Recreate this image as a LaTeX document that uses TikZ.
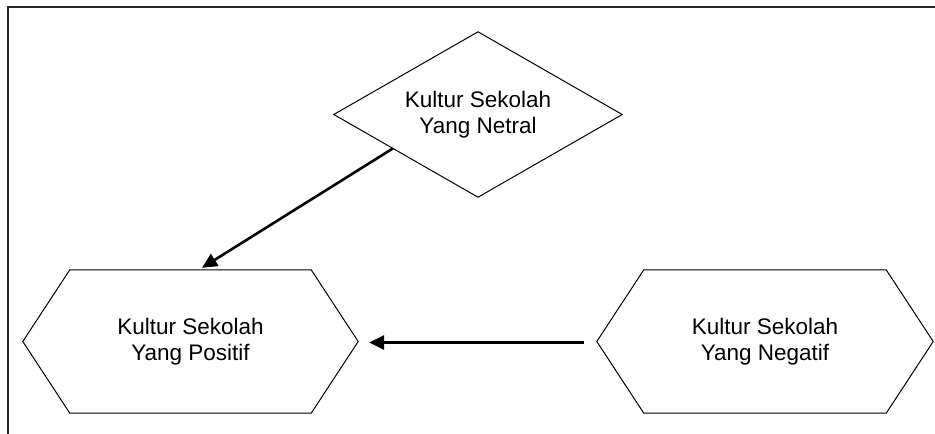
\documentclass[tikz,border=0pt]{standalone}
\usepackage{fontspec}
\setmainfont{Liberation Sans}
\usetikzlibrary{arrows.meta,calc}
\begin{document}
\begin{tikzpicture}[x=1pt,y=-1pt,
  lbl/.style={font=\fontsize{22.5}{26}\selectfont, align=center, text=black},
  shapeline/.style={draw=black, line width=1pt, line join=miter},
  conn/.style={line width=2.6pt, -{Triangle[length=15pt,width=14pt]}},
  framebox/.style={line width=2.2pt, draw=black!85}]
\useasboundingbox (0,0) rectangle (935,434);
% frame (only top and left edges visible)
\draw[framebox] (8,434) -- (8,7) -- (935,7);
% diamond
\node[minimum width=288pt, minimum height=165pt, inner sep=0pt, lbl]
  (netral) at (478,114.5) {Kultur Sekolah\\Yang Netral};
\draw[shapeline] (netral.west) -- (netral.north) -- (netral.east) -- (netral.south) -- cycle;
% left hexagon
\node[minimum width=335pt, minimum height=143pt, inner sep=0pt, lbl]
  (positif) at (190.5,341.5) {Kultur Sekolah\\Yang Positif};
\draw[shapeline] (positif.west) -- ([xshift=47pt]positif.north west) -- ([xshift=-47pt]positif.north east)
  -- (positif.east) -- ([xshift=-47pt]positif.south east) -- ([xshift=47pt]positif.south west) -- cycle;
% right hexagon
\node[minimum width=336pt, minimum height=143pt, inner sep=0pt, lbl]
  (negatif) at (765,341.5) {Kultur Sekolah\\Yang Negatif};
\draw[shapeline] (negatif.west) -- ([xshift=47pt]negatif.north west) -- ([xshift=-47pt]negatif.north east)
  -- (negatif.east) -- ([xshift=-47pt]negatif.south east) -- ([xshift=47pt]negatif.south west) -- cycle;
% connectors
\draw[conn] ($(netral.west)!0.41!(netral.south)$) -- ([xshift=11.5pt,yshift=2pt]positif.north);
\draw[conn] ([xshift=-13pt,yshift=-1pt]negatif.west) -- ([xshift=11pt,yshift=-1pt]positif.east);
\end{tikzpicture}
\end{document}
